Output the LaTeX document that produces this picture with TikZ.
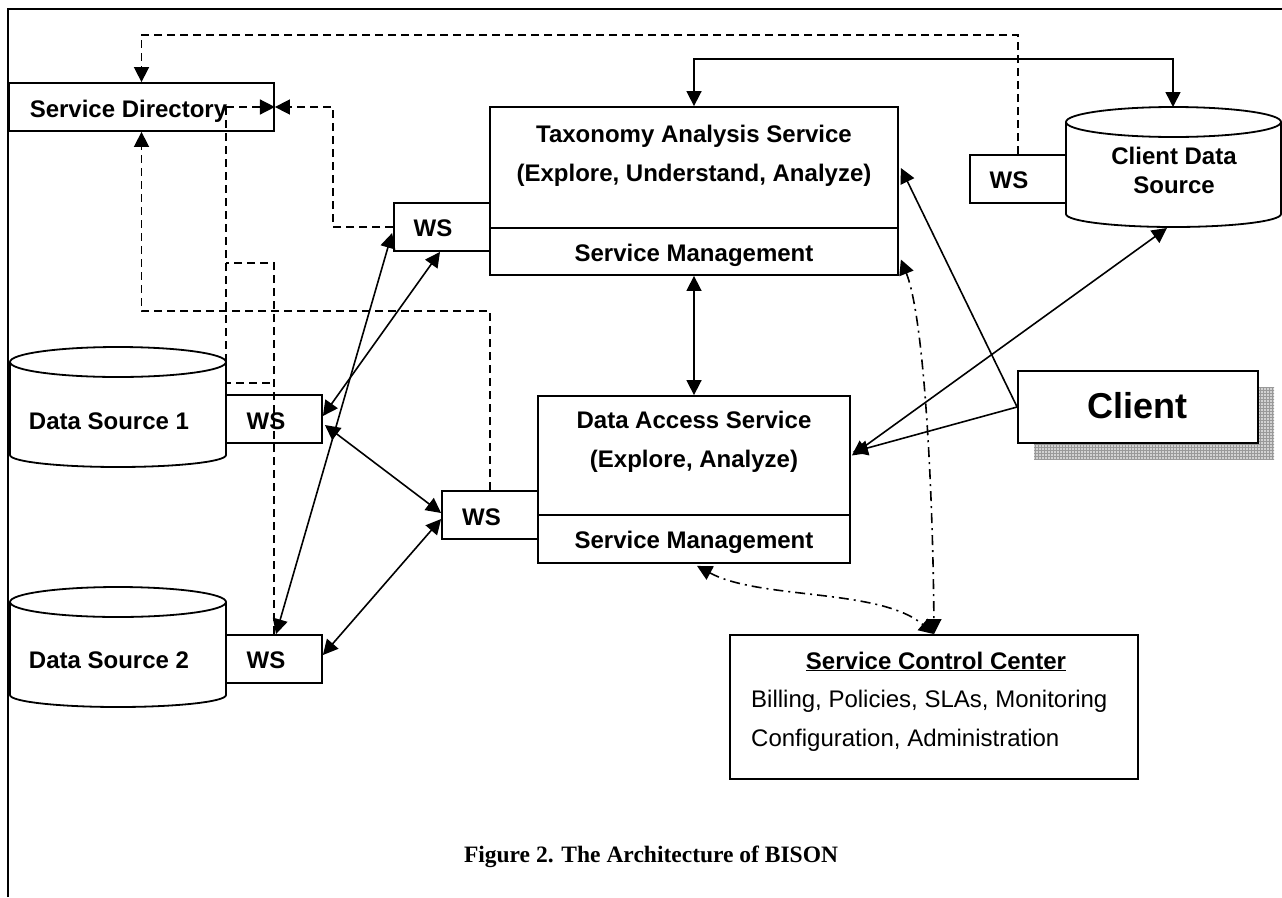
\documentclass[tikz,border=0pt]{standalone}
\usepackage{fontspec}
\setmainfont{Liberation Sans}
\newfontfamily\capfont{Liberation Serif}
\usetikzlibrary{arrows.meta,patterns,calc}
\begin{document}
\begin{tikzpicture}[x=1pt,y=-1pt,
  >={Triangle[length=15pt,width=15pt]},
  box/.style={draw,line width=1.8pt,fill=white,inner sep=0pt},
  txt/.style={font=\fontsize{24}{28}\selectfont\bfseries,anchor=base,inner sep=0pt},
  plaintxt/.style={font=\fontsize{24}{28}\selectfont,anchor=base west,inner sep=0pt},
  conn/.style={line width=1.6pt},
  dsh/.style={conn,dash pattern=on 8pt off 5pt},
  dd/.style={conn,dash pattern=on 10pt off 5pt on 2pt off 5pt},
  cyl/.style={draw,line width=1.8pt,fill=white}
]
\useasboundingbox (0,0) rectangle (1282,897);
% frame
\draw[line width=1.8pt] (8,897) -- (8,9) -- (1282,9);

% cylinders
\draw[cyl] (10,362) -- (10,455) arc[start angle=180,end angle=360,x radius=108pt,y radius=12pt] -- (226,362);
\draw[cyl] (118,362) ellipse [x radius=108pt,y radius=15pt];
\node[txt] (ds1) at (109,429) {Data Source 1};

\draw[cyl] (10,602) -- (10,695) arc[start angle=180,end angle=360,x radius=108pt,y radius=12pt] -- (226,602);
\draw[cyl] (118,602) ellipse [x radius=108pt,y radius=15pt];
\node[txt] (ds2) at (109,668) {Data Source 2};

\draw[cyl] (1066,122) -- (1066,214) arc[start angle=180,end angle=360,x radius=107.5pt,y radius=13pt] -- (1281,122);
\draw[cyl] (1173.5,122) ellipse [x radius=107.5pt,y radius=15pt];
\node[txt] (cds1) at (1174,164) {Client Data};
\node[txt] (cds2) at (1174,193) {Source};
\coordinate (cdstop) at (1173,107);
\coordinate (cdsbot) at (1167,228);

% boxes
\node[box,minimum width=265pt,minimum height=48pt] (sd) at (141.5,107) {};
\node[txt] (sdt) at (128.5,117) {Service Directory};

\node[box,minimum width=408pt,minimum height=121pt] (tax) at (694,167.5) {};
\node[box,minimum width=408pt,minimum height=47pt] (taxsm) at (694,251.5) {};
\node[txt] (taxt1) at (694,142) {Taxonomy Analysis Service};
\node[txt] (taxt2) at (694,181) {(Explore, Understand, Analyze)};
\node[txt] (taxt3) at (694,261) {Service Management};

\node[box,minimum width=96pt,minimum height=48pt] (wst) at (442,227) {};
\node[txt] (wstt) at (433,236) {WS};

\node[box,minimum width=312pt,minimum height=119pt] (da) at (694,455.5) {};
\node[box,minimum width=312pt,minimum height=48pt] (dasm) at (694,539) {};
\node[txt] (dat1) at (694,428) {Data Access Service};
\node[txt] (dat2) at (694,467) {(Explore, Analyze)};
\node[txt] (dat3) at (694,548) {Service Management};

\node[box,minimum width=96pt,minimum height=48pt] (wsd) at (490,515) {};
\node[txt] (wsdt) at (481.5,525) {WS};

\node[box,minimum width=96pt,minimum height=48pt] (ws1) at (274,419) {};
\node[txt] (ws1t) at (266,429) {WS};
\node[box,minimum width=96pt,minimum height=48pt] (ws2) at (274,659) {};
\node[txt] (ws2t) at (266,668) {WS};

\node[box,minimum width=96pt,minimum height=48pt] (wsc) at (1018,179) {};
\node[txt] (wsct) at (1009,188) {WS};

% client with shadow
\fill[gray!35] (1034,387) rectangle (1274,459);
\fill[pattern=grid,pattern color=gray!80] (1034,387) rectangle (1274,459);
\node[box,minimum width=240pt,minimum height=72pt] (client) at (1138,407) {};
\node[font=\fontsize{36}{40}\selectfont\bfseries,anchor=base,inner sep=0pt] (clientt) at (1137,418) {Client};

% service control center
\node[box,minimum width=408pt,minimum height=144pt] (scc) at (934,707) {};
\node[txt] (scct) at (936,669) {\underline{Service Control Center}};
\node[plaintxt] (scc1) at (751,707) {Billing, Policies, SLAs, Monitoring};
\node[plaintxt] (scc2) at (751,746) {Configuration, Administration};

% caption
\node[font=\capfont\bfseries\fontsize{23.5}{28}\selectfont,anchor=base,inner sep=0pt] (cap) at (651,862) {Figure 2. The Architecture of BISON};

% solid connectors
\draw[conn,<->] (tax.north) -- (694,59) -| (cdstop);
\draw[conn,<->] (taxsm.south) -- (da.north);
\draw[conn,<->] ($(ws1.east)+(0,-3)$) -- ($(wst.south)+(-2,0)$);
\draw[conn,<->] ($(ws2.north)+(2,0)$) -- ($(wst.west)+(-1,6)$);
\draw[conn,<->] ($(ws1.east)+(2,6)$) -- ($(wsd.west)+(0,-2)$);
\draw[conn,<->] ($(ws2.east)+(0,-4)$) -- ($(wsd.west)+(0,4)$);
\draw[conn,->] (client.west) -- ($(tax.east)+(2,0.5)$);
\draw[conn,->] (client.west) -- ($(da.east)+(2,-3.5)$);
\draw[conn,<->] (cdsbot) -- ($(da.east)+(1,0)$);

% dashed connectors
\draw[dsh,->] (wsc.north) -- (1018,35) -| (sd.north);
\draw[dsh,->] (wst.west) -- (333,227) -- (333,107) -- (sd.east);
\coordinate (sdin) at (226,107);
\draw[dsh,->] (sdin) -- (sd.east);
\draw[dsh] (sdin) -- (226,383) -- (274,383);
\draw[dsh] (ws2.north) -- (274,263) -- (226,263);
\draw[dsh,->] (wsd.north) -- (490,311) -| (sd.south);

% dash-dot connectors
\draw[dd,<->] ($(taxsm.east)+(2,8)$) .. controls (925,320) and (933,500) .. (scc.north);
\draw[dd,<->] ($(dasm.south)+(3,2)$) .. controls (760,600) and (880,588) .. (scc.north);
\end{tikzpicture}
\end{document}
